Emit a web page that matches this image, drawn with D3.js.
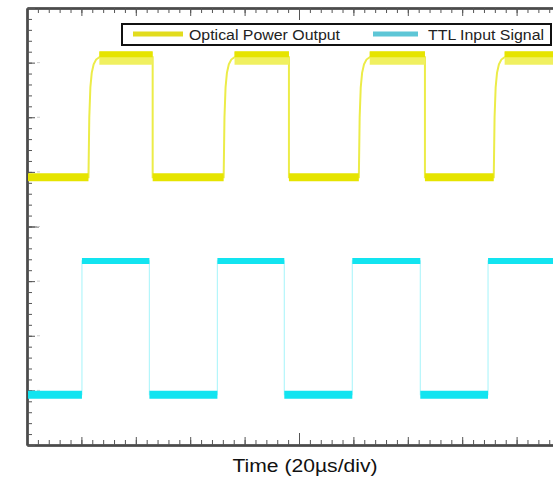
<!DOCTYPE html>
<html>
<head>
  <meta charset="utf-8">
  <script src="https://cdnjs.cloudflare.com/ajax/libs/d3/7.8.5/d3.min.js"></script>
  <style>
    body { margin: 0; background: #fff; font-family: Arial, "Liberation Sans", sans-serif; }
    .axis path { stroke: #4a4a4a; stroke-width: 2; }
    .axis line { stroke: #555; stroke-width: 1; }
  </style>
</head>
<body>
  <div id="chart"></div>
  <script>
    // time in microseconds, level in screen divisions (0 = centre line)
    var ttlRise = [20.2, 70.0, 119.6, 169.5];
    var ttlFall = [45.0, 94.6, 144.6];
    var ttlLevel = [-3.08, -0.63];          // low, high
    var optRise = [22.6, 72.3, 122.0, 171.6];
    var optFall = [46.2, 96.3, 146.3];
    var optLevel = [0.9, 3.1];              // low, high
    // shape of the optical rising edge
    var riseDt = [0, 0.3, 0.7, 1.2, 1.9, 2.8, 4.0];
    var riseFrac = [0, 0.5, 0.75, 0.87, 0.94, 0.98, 1.0];
    var legendLabels = ["Optical Power Output", "TTL Input Signal"];
    var xLabel = "Time (20\u00b5s/div)";

    var svgWidth = 553, svgHeight = 480;
    var margin = { top: 8, left: 27 };
    var width = 544, height = 437;

    var svg = d3.select("#chart").append("svg")
      .attr("width", svgWidth)
      .attr("height", svgHeight);

    var x = d3.scaleLinear().domain([0, 200]).range([margin.left, margin.left + width]);
    var y = d3.scaleLinear().domain([-4, 4]).range([margin.top + height, margin.top]);

    // graticule ticks on the frame
    var minorX = d3.range(0, 201, 4), majorX = d3.range(0, 201, 20);
    var minorY = d3.range(-4, 4.01, 0.2), majorY = d3.range(-4, 5, 1);

    function addAxis(axisFn, scale, vals, size, tr) {
      return svg.append("g").attr("class", "axis")
        .attr("transform", tr)
        .call(axisFn(scale).tickValues(vals).tickSize(size).tickSizeOuter(0).tickFormat(""));
    }
    var bt = "translate(0," + (margin.top + height) + ")";
    var tt = "translate(0," + margin.top + ")";
    var lt = "translate(" + margin.left + ",0)";
    addAxis(d3.axisBottom, x, majorX, -8, bt);
    addAxis(d3.axisBottom, x, [100], -12, bt);
    addAxis(d3.axisBottom, x, minorX, -5, bt);
    addAxis(d3.axisTop, x, majorX, -8, tt);
    addAxis(d3.axisTop, x, [100], -12, tt);
    addAxis(d3.axisTop, x, minorX, -5, tt);
    addAxis(d3.axisLeft, y, majorY, -8, lt);
    addAxis(d3.axisLeft, y, [0], -12, lt);
    addAxis(d3.axisLeft, y, minorY, -5, lt);

    // faint marks at major divisions just inside the left edge
    svg.append("g").selectAll("line").data(majorY.slice(1, -1)).enter().append("line")
      .attr("x1", margin.left + 10).attr("x2", margin.left + 13)
      .attr("y1", function(d) { return y(d); }).attr("y2", function(d) { return y(d); })
      .attr("stroke", "#ccc");

    // build step traces
    function buildTrace(rises, falls, level, dt, frac) {
      var pts = [[0, level[0]]];
      var edges = rises.map(function(t) { return { t: t, up: true }; })
        .concat(falls.map(function(t) { return { t: t, up: false }; }))
        .sort(function(a, b) { return a.t - b.t; });
      var flats = [];
      var start = 0, cur = level[0];
      edges.forEach(function(e) {
        flats.push([start, e.t, cur]);
        if (e.up) {
          dt.forEach(function(d, i) {
            pts.push([e.t + d, level[0] + (level[1] - level[0]) * frac[i]]);
          });
          start = e.t + dt[dt.length - 1];
          cur = level[1];
        } else {
          pts.push([e.t, level[1]]);
          pts.push([e.t, level[0]]);
          start = e.t;
          cur = level[0];
        }
      });
      flats.push([start, 200, cur]);
      pts.push([200, cur]);
      return { pts: pts, flats: flats };
    }

    svg.append("clipPath").attr("id", "plotclip").append("rect")
      .attr("x", margin.left + 1).attr("y", margin.top + 1)
      .attr("width", width - 2).attr("height", height - 2);
    var plot = svg.append("g").attr("clip-path", "url(#plotclip)");

    var line = d3.line().x(function(d) { return x(d[0]); }).y(function(d) { return y(d[1]); });

    // TTL input signal
    var ttl = buildTrace(ttlRise, ttlFall, ttlLevel, [0, 0], [0, 1]);
    plot.append("path").datum(ttl.pts).attr("d", line)
      .attr("fill", "none").attr("stroke", "#b4f6fb").attr("stroke-width", 1.2);
    plot.selectAll(".ttlflat").data(ttl.flats).enter().append("line")
      .attr("class", "ttlflat")
      .attr("x1", function(d) { return x(d[0]); }).attr("x2", function(d) { return x(d[1]); })
      .attr("y1", function(d) { return y(d[2]); }).attr("y2", function(d) { return y(d[2]); })
      .attr("stroke", "#12e4f0")
      .attr("stroke-width", function(d) { return d[2] === ttlLevel[1] ? 6 : 8; });

    // Optical power output
    var opt = buildTrace(optRise, optFall, optLevel, riseDt, riseFrac);
    plot.append("path").datum(opt.pts).attr("d", line)
      .attr("fill", "none").attr("stroke", "#ecec48").attr("stroke-width", 2);
    plot.selectAll(".optflat").data(opt.flats).enter().append("line")
      .attr("class", "optflat")
      .attr("x1", function(d) { return x(d[0]); }).attr("x2", function(d) { return x(d[1]); })
      .attr("y1", function(d) { return y(d[2]) + (d[2] === optLevel[1] ? 1 : 0); })
      .attr("y2", function(d) { return y(d[2]) + (d[2] === optLevel[1] ? 1 : 0); })
      .attr("stroke", function(d) { return d[2] === optLevel[1] ? "#f0f060" : "#e6e400"; })
      .attr("stroke-width", function(d) { return d[2] === optLevel[1] ? 13 : 8; });
    plot.selectAll(".opttop").data(opt.flats.filter(function(d) { return d[2] === optLevel[1]; }))
      .enter().append("line")
      .attr("x1", function(d) { return x(d[0]); }).attr("x2", function(d) { return x(d[1]); })
      .attr("y1", function(d) { return y(d[2]) - 3; }).attr("y2", function(d) { return y(d[2]) - 3; })
      .attr("stroke", "#e6e400").attr("stroke-width", 6);

    // legend
    var lg = svg.append("g");
    lg.append("rect").attr("x", 122).attr("y", 24).attr("width", 429).attr("height", 21)
      .attr("fill", "#fff").attr("stroke", "#111").attr("stroke-width", 2);
    var legendColors = ["#e2dc1e", "#5ec6d6"];
    var legendX = [133, 373];
    var legendTextW = [151, 116];
    legendLabels.forEach(function(lab, i) {
      lg.append("line").attr("x1", legendX[i]).attr("x2", legendX[i] + (i ? 45 : 50))
        .attr("y1", 34).attr("y2", 34)
        .attr("stroke", legendColors[i]).attr("stroke-width", 5);
      lg.append("text").attr("x", legendX[i] + (i ? 55 : 56)).attr("y", 40)
        .attr("font-size", 15.5).attr("fill", "#222")
        .attr("textLength", legendTextW[i]).attr("lengthAdjust", "spacingAndGlyphs")
        .text(lab);
    });

    // axis label
    svg.append("text").attr("x", 305).attr("y", 472)
      .attr("text-anchor", "middle").attr("font-size", 18).attr("fill", "#111")
      .attr("textLength", 145).attr("lengthAdjust", "spacingAndGlyphs")
      .text(xLabel);
  </script>
</body>
</html>
